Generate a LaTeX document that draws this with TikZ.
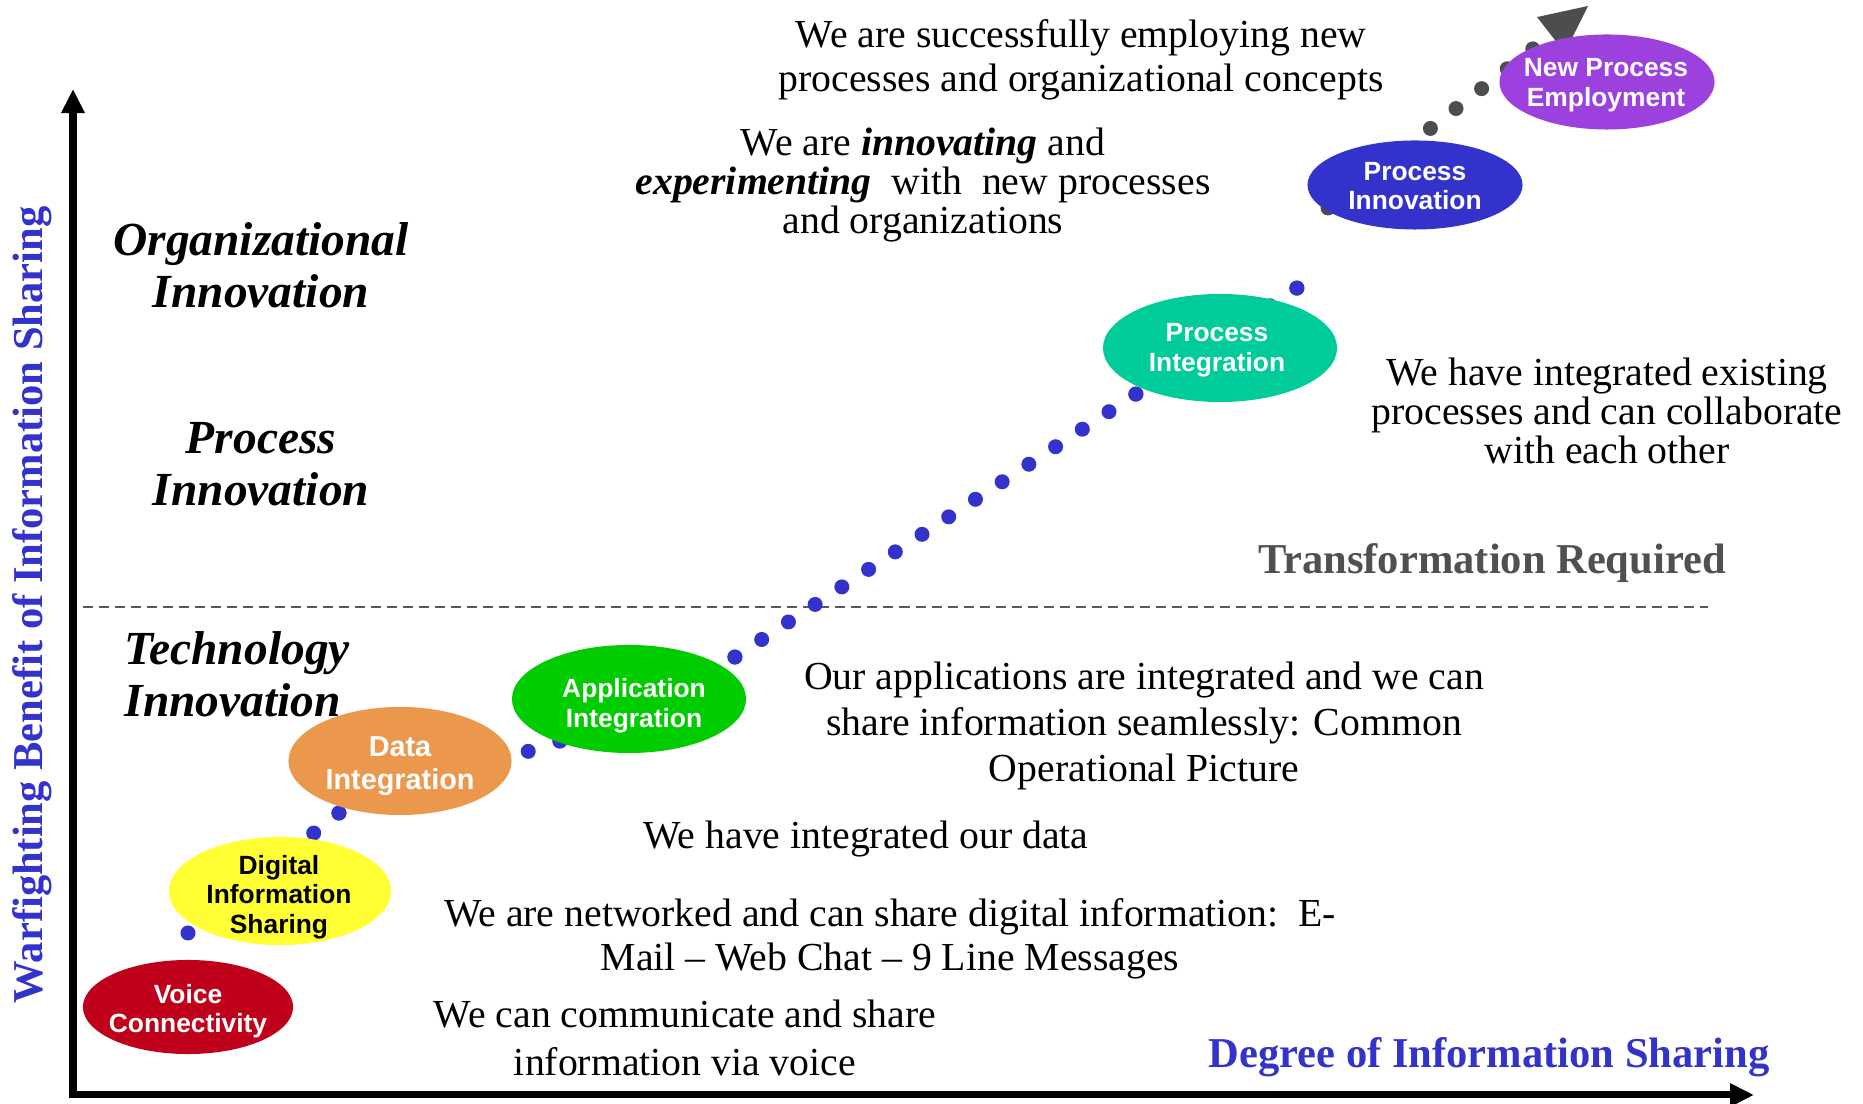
\documentclass[tikz,border=0pt]{standalone}
\usepackage{fontspec}
\setmainfont{Liberation Serif}
\setsansfont{Liberation Sans}
\usetikzlibrary{shapes.geometric}
\usetikzlibrary{arrows.meta}

\definecolor{trailblue}{RGB}{51,51,204}
\definecolor{trailgrey}{RGB}{77,77,77}
\definecolor{voicered}{RGB}{192,0,26}
\definecolor{digitalyellow}{RGB}{255,255,51}
\definecolor{dataorange}{RGB}{236,152,76}
\definecolor{appgreen}{RGB}{0,204,0}
\definecolor{procteal}{RGB}{0,204,153}
\definecolor{innovblue}{RGB}{51,51,204}
\definecolor{newpurple}{RGB}{156,64,222}
\definecolor{labelgrey}{RGB}{80,80,80}
\definecolor{dashgrey}{RGB}{90,90,90}

\begin{document}
\begin{tikzpicture}[x=0.01cm,y=-0.01cm,
stage/.style={ellipse,inner sep=0pt,outer sep=0pt},
stagetext/.style={align=center,inner sep=0pt,text=white,font=\sffamily\bfseries\fontsize{7.5}{8.4}\selectfont},
note/.style={align=center,inner sep=0pt,font=\fontsize{11.3}{#1}\selectfont},
note/.default=12.6pt,
phase/.style={align=center,inner sep=0pt,font=\bfseries\itshape\fontsize{13.5}{14.7}\selectfont},
axislabel/.style={inner sep=0pt,font=\bfseries\fontsize{12.1}{14}\selectfont},
axisline/.style={line width=0.07cm,{Triangle[length=0.24cm,width=0.22cm]}-{Triangle[length=0.24cm,width=0.22cm]}},
divider/.style={dashgrey,line width=0.025cm,dash pattern=on 0.1cm off 0.06cm},
bluetrail/.style={trailblue,line width=0.15cm,line cap=round,dash pattern=on 0pt off #1},
greytrail/.style={trailgrey,line width=0.15cm,line cap=round,dash pattern=on 0pt off 0.324cm,-{Triangle[length=0.47cm,width=0.45cm,line width=0pt]}}]

\useasboundingbox (0,0) rectangle (1863,1104);

% axes
\coordinate (ytip) at (73,89);
\coordinate (origin) at (73,1095);
\coordinate (xtip) at (1754,1095);
\draw[axisline] (ytip) -- (origin) -- (xtip);
\node[axislabel,text=trailblue,rotate=90] (ylab) at (32,605) {Warfighting Benefit of Information Sharing};
\node[axislabel,text=trailblue] (xlab) at (1489,1057) {Degree of Information Sharing};

% transformation line
\coordinate (dashL) at (83,607);
\coordinate (dashR) at (1708,607);
\draw[divider] (dashL) -- (dashR);
\node[axislabel,text=labelgrey] (transf) at (1492,563) {Transformation Required};

% phases
\node[phase] (orginn) at (261,265) {Organizational\\Innovation};
\node[phase] (procinnlab) at (261,464) {Process\\Innovation};
\node[phase,align=left,anchor=west] (techinn) at (124,674) {Technology\\Innovation};

% trail points
\coordinate (t0) at (188,933);
\coordinate (t1) at (339,813);
\coordinate (t2) at (560,741);
\coordinate (t3) at (735,657);
\coordinate (t4) at (1136,394);
\coordinate (t5) at (1297,288);
\coordinate (g0) at (1328,208);
\coordinate (gtip) at (1588,6);
\draw[bluetrail=0.3210cm] (t0) -- (t1);
\draw[bluetrail=0.3315cm] (t1) -- (t2);
\draw[bluetrail=0.3230cm] (t2) -- (t3);
\draw[bluetrail=0.3193cm] (t3) -- (t4);
\draw[bluetrail=0.3205cm] (t4) -- (t5);
\fill[trailblue] (t5) circle[radius=0.075cm];
\draw[greytrail] (g0) -- (gtip);

% stages
\node[stage,fill=voicered,minimum width=2.1cm,minimum height=0.94cm] (voice) at (188,1007) {};
\node[stagetext] at (188,1011) {Voice\\Connectivity};
\node[stage,fill=digitalyellow,minimum width=2.22cm,minimum height=1.08cm] (digital) at (280,891) {};
\node[stagetext,text=black] at (279,897) {Digital\\Information\\Sharing};
\node[stage,fill=dataorange,minimum width=2.23cm,minimum height=1.08cm] (data) at (400,761) {};
\node[stagetext,font=\sffamily\bfseries\fontsize{8.2}{9.4}\selectfont] at (400,766) {Data\\Integration};
\node[stage,fill=appgreen,minimum width=2.34cm,minimum height=1.08cm] (app) at (629,699) {};
\node[stagetext] at (634,706) {Application\\Integration};
\node[stage,fill=procteal,minimum width=2.34cm,minimum height=1.08cm] (procint) at (1220,348) {};
\node[stagetext] at (1217,350) {Process\\Integration};
\node[stage,fill=innovblue,minimum width=2.15cm,minimum height=0.89cm] (procinn) at (1415,185) {};
\node[stagetext] at (1415,186) {Process\\Innovation};
\node[stage,fill=newpurple,minimum width=2.15cm,minimum height=0.95cm] (newproc) at (1607,82) {};
\node[stagetext] at (1606,85) {New Process\\Employment};

% statements
\node[note=12.5pt] (employ) at (1081,60) {We are successfully employing new\\processes and organizational concepts};
\node[note=11pt] (experiment) at (923,185) {We are \textbf{\textit{innovating}} and\\\textbf{\textit{experimenting}}\ \ with\ \ new processes\\and organizations};
\node[note=11pt] (collab) at (1607,411) {We have integrated existing\\processes and can collaborate\\with each other};
\node[note=13pt] (apps) at (1144,726) {Our applications are integrated and we can\\share information seamlessly: Common\\Operational Picture};
\node[note] (dataint) at (866,839) {We have integrated our data};
\node[note=12.5pt] (network) at (890,939) {We are networked and can share digital information:\ \ E-\\Mail -- Web Chat -- 9 Line Messages};
\node[note=13.5pt] (voicecom) at (685,1038) {We can communicate and share\\information via voice};

\end{tikzpicture}
\end{document}
